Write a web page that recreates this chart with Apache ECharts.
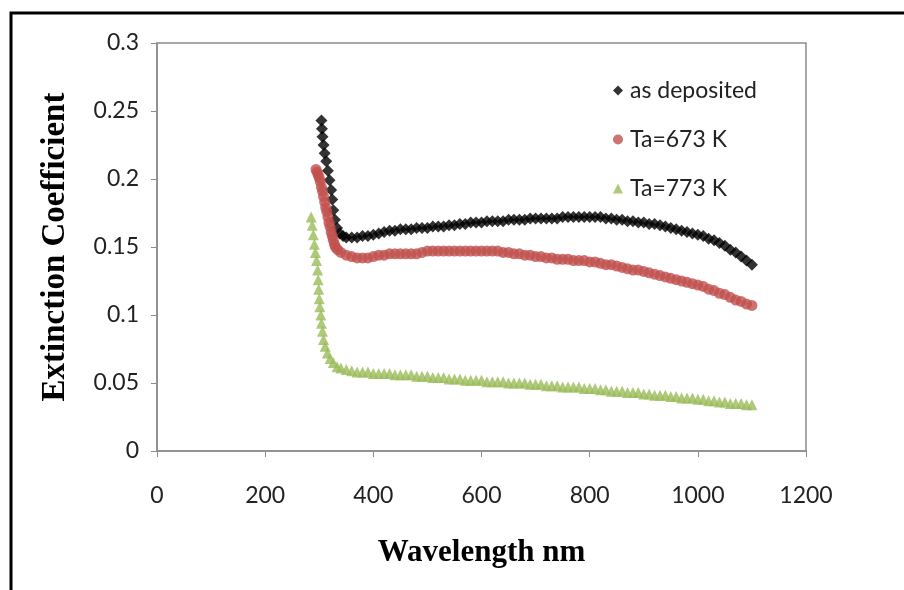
<!DOCTYPE html>
<html>
<head>
<meta charset="utf-8">
<script src="https://cdn.jsdelivr.net/npm/echarts@6/dist/echarts.min.js"></script>
<style>html,body{margin:0;padding:0;background:#fff}#c{width:904px;height:590px}</style>
</head>
<body>
<div id="c"></div>
<script>
// Shared wavelength grid of the flat part (nm)
const wlFlat = [350,360,370,380,390,400,410,420,430,440,450,460,470,480,490,500,510,520,530,540,550,560,570,580,590,600,610,620,630,640,650,660,670,680,690,700,710,720,730,740,750,760,770,780,790,800,810,820,830,840,850,860,870,880,890,900,910,920,930,940,950,960,970,980,990,1000,1010,1020,1030,1040,1050,1060,1070,1080,1090,1100];

// as deposited
const asDepWlSteep = [304,305,306,308,310,313,316,319,322,324,326,329,333,338,344];
const asDepKSteep  = [0.243,0.237,0.231,0.225,0.219,0.213,0.206,0.199,0.192,0.185,0.177,0.170,0.164,0.160,0.158];
const asDepKFlat = [0.157,0.157,0.157,0.158,0.158,0.159,0.160,0.161,0.162,0.162,
0.163,0.163,0.163,0.164,0.164,0.164,0.165,0.165,0.165,0.166,
0.166,0.167,0.167,0.168,0.168,0.168,0.169,0.169,0.169,0.169,
0.170,0.170,0.170,0.170,0.171,0.171,0.171,0.171,0.171,0.171,
0.172,0.172,0.172,0.172,0.172,0.172,0.172,0.172,0.171,0.171,
0.170,0.170,0.169,0.169,0.168,0.168,0.167,0.167,0.166,0.165,
0.164,0.163,0.162,0.161,0.160,0.159,0.158,0.156,0.155,0.153,
0.151,0.148,0.146,0.143,0.140,0.137];

// Ta = 673 K
const t673WlSteep = [294,296,298,300,302,304,306,308,310,312,314,316,318,320,322,324,326,328,330,334,340];
const t673KSteep  = [0.207,0.205,0.203,0.201,0.198,0.194,0.191,0.187,0.183,0.179,0.176,0.172,0.168,0.165,0.161,0.158,0.155,0.152,0.150,0.148,0.146];
const t673KFlat = [0.144,0.143,0.142,0.142,0.142,0.143,0.144,0.144,0.145,0.145,
0.145,0.145,0.145,0.145,0.146,0.147,0.147,0.147,0.147,0.147,
0.147,0.147,0.147,0.147,0.147,0.147,0.147,0.147,0.147,0.146,
0.146,0.145,0.145,0.144,0.144,0.143,0.143,0.142,0.142,0.141,
0.141,0.141,0.140,0.140,0.140,0.139,0.139,0.138,0.137,0.137,
0.136,0.135,0.134,0.133,0.133,0.132,0.131,0.130,0.129,0.128,
0.127,0.126,0.125,0.124,0.123,0.122,0.121,0.119,0.118,0.116,
0.115,0.113,0.111,0.110,0.108,0.107];

// Ta = 773 K
const t773WlSteep = [285,287,289,291,293,295,297,298,299,300,301,303,304,306,308,311,315,320,326,333,340];
const t773KSteep  = [0.172,0.166,0.159,0.152,0.146,0.140,0.133,0.126,0.119,0.112,0.106,0.100,0.094,0.088,0.082,0.077,0.072,0.068,0.065,0.062,0.061];
const t773KFlat = [0.060,0.059,0.058,0.058,0.058,0.057,0.057,0.057,0.057,0.056,
0.056,0.056,0.056,0.055,0.055,0.055,0.054,0.054,0.054,0.053,
0.053,0.053,0.052,0.052,0.052,0.052,0.051,0.051,0.051,0.051,
0.050,0.050,0.050,0.050,0.049,0.049,0.049,0.048,0.048,0.048,
0.047,0.047,0.047,0.047,0.046,0.046,0.046,0.045,0.045,0.044,
0.044,0.044,0.043,0.043,0.043,0.042,0.042,0.041,0.041,0.041,
0.040,0.040,0.039,0.039,0.039,0.038,0.038,0.037,0.037,0.036,
0.036,0.035,0.035,0.035,0.034,0.034];

const seriesNames = ['as deposited','Ta=673 K','Ta=773 K'];
const xTicks = [0,200,400,600,800,1000,1200];
const yTicks = [0,0.05,0.1,0.15,0.2,0.25,0.3];

function pairs(wlA, kA, wlB, kB){
  const out = [];
  for (let i=0;i<wlA.length;i++) out.push([wlA[i], kA[i]]);
  for (let i=0;i<wlB.length;i++) out.push([wlB[i], kB[i]]);
  return out;
}

const chart = echarts.init(document.getElementById('c'), null, {renderer:'canvas'});
const tickFont = {fontFamily:'Lato', fontSize:23, color:'#222'};
chart.setOption({
  animation:false,
  backgroundColor:'#fff',
  graphic:[{type:'rect', shape:{x:11, y:13, width:910, height:600}, style:{fill:null, stroke:'#000', lineWidth:3}, silent:true}],
  grid:{left:157, right:98, top:43, bottom:139, show:true, borderColor:'#8c8c8c', borderWidth:1.5, backgroundColor:'transparent'},
  legend:{
    orient:'vertical', left:608, top:74, itemGap:26, itemWidth:10, itemHeight:10,
    textStyle:{fontFamily:'Lato', fontSize:23, color:'#222', padding:[0,0,0,2]},
    data:seriesNames
  },
  xAxis:{
    type:'value', min:0, max:1200, interval:200,
    name:'Wavelength nm', nameLocation:'middle', nameGap:86,
    nameTextStyle:{fontFamily:'Liberation Serif', fontWeight:'bold', fontSize:31, color:'#000'},
    axisLine:{show:true, lineStyle:{color:'#8c8c8c', width:1.5}},
    axisTick:{show:true, inside:false, length:6, lineStyle:{color:'#8c8c8c'}},
    axisLabel:Object.assign({margin:33, formatter:v=>xTicks.includes(v)?String(v):''}, tickFont),
    splitLine:{show:false}
  },
  yAxis:{
    type:'value', min:0, max:0.3, interval:0.05,
    name:'Extinction Coefficient', nameLocation:'middle', nameGap:85,
    nameTextStyle:{fontFamily:'Liberation Serif', fontWeight:'bold', fontSize:33, color:'#000'},
    axisLine:{show:true, lineStyle:{color:'#8c8c8c', width:1.5}},
    axisTick:{show:true, inside:false, length:6, lineStyle:{color:'#8c8c8c'}},
    axisLabel:Object.assign({margin:18, formatter:v=>{const t=yTicks.find(y=>Math.abs(y-v)<1e-9);return t===undefined?'':String(t);}}, tickFont),
    splitLine:{show:false}
  },
  series:[
    {name:seriesNames[0], type:'scatter', symbol:'diamond', symbolSize:12, itemStyle:{color:'#000'},
     data:pairs(asDepWlSteep, asDepKSteep, wlFlat, asDepKFlat)},
    {name:seriesNames[1], type:'scatter', symbol:'circle', symbolSize:11, itemStyle:{color:'#c0504d'},
     data:pairs(t673WlSteep, t673KSteep, wlFlat, t673KFlat)},
    {name:seriesNames[2], type:'scatter', symbol:'triangle', symbolSize:11, itemStyle:{color:'#9bbb59'},
     data:pairs(t773WlSteep, t773KSteep, wlFlat, t773KFlat)}
  ]
});
</script>
</body>
</html>
